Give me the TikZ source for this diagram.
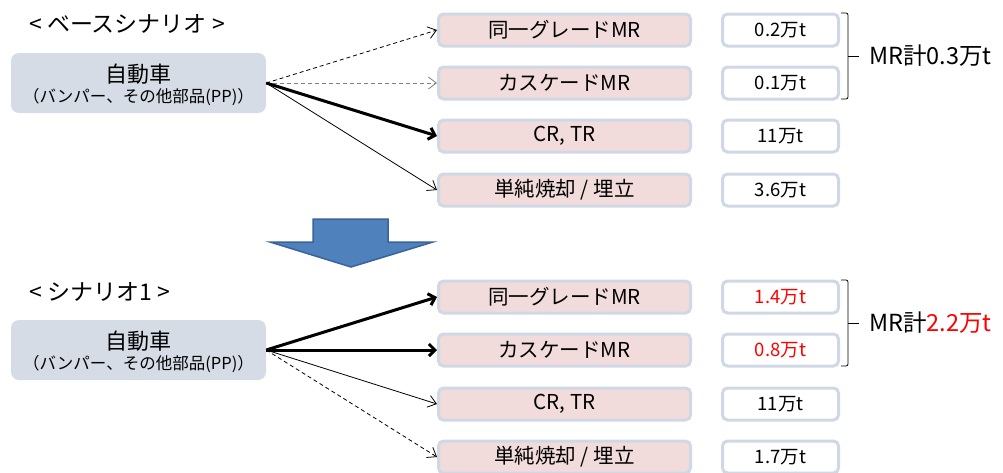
\documentclass[tikz,border=0pt]{standalone}
\usepackage{fontspec}
\setmainfont{Noto Sans CJK JP}
\usetikzlibrary{arrows.meta}
\definecolor{srcfill}{HTML}{D5DCE6}
\definecolor{pinkfill}{HTML}{F2DCDB}
\definecolor{boxline}{HTML}{D0D8E6}
\definecolor{arrowfill}{HTML}{4F81BD}
\definecolor{arrowline}{HTML}{3A6399}
\definecolor{dgray}{HTML}{7F7F7F}
\begin{document}
\begin{tikzpicture}[x=1pt,y=-1pt,
  srcbox/.style={fill=srcfill, rounded corners=8pt, minimum width=255pt, minimum height=60pt, inner sep=0pt},
  routebox/.style={fill=pinkfill, draw=boxline, line width=3pt, rounded corners=5pt, minimum width=252pt, minimum height=32pt, inner sep=0pt, font=\fontsize{20.5pt}{22pt}\selectfont},
  valbox/.style={fill=white, draw=boxline, line width=3pt, rounded corners=5pt, minimum width=116pt, minimum height=32pt, inner sep=0pt, font=\fontsize{18.5pt}{20pt}\selectfont},
  headtext/.style={anchor=west, inner sep=0pt, font=\fontsize{23pt}{25pt}\selectfont},
  maintext/.style={inner sep=0pt, font=\fontsize{22pt}{24pt}\selectfont},
  subtext/.style={inner sep=0pt, font=\fontsize{16.5pt}{18pt}\selectfont},
  sumtext/.style={anchor=west, inner sep=0pt, font=\fontsize{23.5pt}{25pt}\selectfont},
  thinarr/.style={-{Straight Barb[length=8pt,width=12pt]}, line width=0.8pt},
  thickarr/.style={-{Straight Barb[length=6pt,width=12pt]}, line width=3pt},
  dasharr/.style={thinarr, dash pattern=on 4pt off 3pt},
  brace/.style={line width=0.8pt, rounded corners=2pt}
]
\useasboundingbox (0,0) rectangle (1003,472);

% ---------- base scenario ----------
\node[headtext] (h1) at (29,24) {< ベースシナリオ >};
\node[srcbox] (s1) at (138.5,83) {};
\node[maintext] (s1a) at (138.5,74) {自動車};
\node[subtext] (s1b) at (138.5,97) {（バンパー、その他部品(PP)）};

\node[routebox] (a1) at (564.5,30) {同一グレードMR};
\node[routebox] (a2) at (564.5,83) {カスケードMR};
\node[routebox] (a3) at (564.5,136) {CR, TR};
\node[routebox] (a4) at (564.5,190) {単純焼却 / 埋立};

\node[valbox] (v1) at (780.5,30) {0.2万t};
\node[valbox] (v2) at (780.5,83) {0.1万t};
\node[valbox] (v3) at (780.5,136) {11万t};
\node[valbox] (v4) at (780.5,190) {3.6万t};

\draw[dasharr] (s1.east) -- (a1.west);
\draw[dasharr, dgray] (s1.east) -- (a2.west);
\draw[thickarr] (s1.east) -- (a3.west);
\draw[thinarr] (s1.east) -- (a4.west);

\draw[brace] (841,13) -- (848,13) -- (848,99) -- (841,99);
\draw[line width=0.8pt] (848,56) -- (859,56);
\node[sumtext] (m1) at (869,56) {MR計0.3万t};

% ---------- down arrow ----------
\draw[fill=arrowfill, draw=arrowline, line width=1.5pt, line join=miter]
  (313,219) -- (388,219) -- (388,242) -- (433,242) -- (351,267) -- (270,242) -- (313,242) -- cycle;

% ---------- scenario 1 ----------
\node[headtext] (h2) at (29,292) {< シナリオ1 >};
\node[srcbox] (s2) at (138.5,350) {};
\node[maintext] (s2a) at (138.5,341) {自動車};
\node[subtext] (s2b) at (138.5,364) {（バンパー、その他部品(PP)）};

\node[routebox] (b1) at (564.5,297) {同一グレードMR};
\node[routebox] (b2) at (564.5,350) {カスケードMR};
\node[routebox] (b3) at (564.5,404) {CR, TR};
\node[routebox] (b4) at (564.5,457) {単純焼却 / 埋立};

\node[valbox, text=red] (w1) at (780.5,297) {1.4万t};
\node[valbox, text=red] (w2) at (780.5,350) {0.8万t};
\node[valbox] (w3) at (780.5,404) {11万t};
\node[valbox] (w4) at (780.5,457) {1.7万t};

\draw[thickarr] (s2.east) -- (b1.west);
\draw[thickarr] (s2.east) -- (b2.west);
\draw[thinarr] (s2.east) -- (b3.west);
\draw[dasharr] (s2.east) -- (b4.west);

\draw[brace] (841,280) -- (848,280) -- (848,366) -- (841,366);
\draw[line width=0.8pt] (848,323) -- (859,323);
\node[sumtext] (m2) at (869,323) {MR計\textcolor{red}{2.2万t}};
\end{tikzpicture}
\end{document}
